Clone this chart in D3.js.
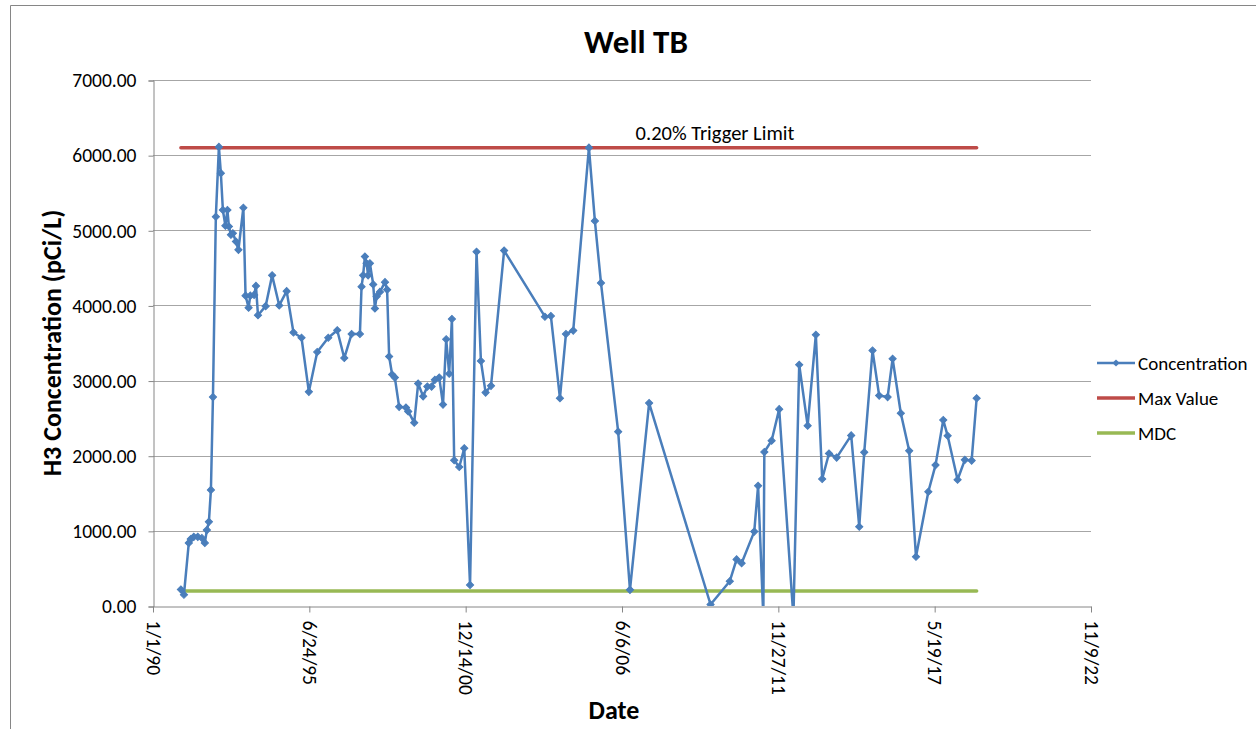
<!DOCTYPE html>
<html>
<head>
<meta charset="utf-8">
<script src="https://cdn.jsdelivr.net/npm/d3@7"></script>
<style>
  body { margin: 0; background: #fff; }
  svg { font-family: Carlito, Lato, "Open Sans", sans-serif; }
</style>
</head>
<body>
<div id="chartdiv"></div>
<script>
// sample dates (M/D/YY) and H3 concentration
var sampleDates = [
  "12/24/90", "2/1/91", "4/4/91", "4/29/91", "6/7/91", "7/28/91", "9/18/91", "10/26/91", "11/21/91", "12/17/91",
  "1/12/92", "2/7/92", "3/15/92", "4/23/92", "5/18/92", "6/13/92", "7/15/92", "8/10/92", "8/29/92", "9/24/92",
  "10/19/92", "11/27/92", "12/29/92", "3/2/93", "3/30/93", "5/8/93", "5/30/93", "7/18/93", "8/10/93", "9/5/93",
  "12/12/93", "3/5/94", "6/4/94", "9/7/94", "12/3/94", "3/16/95", "6/18/95", "10/3/95", "2/21/96", "6/15/96",
  "9/13/96", "12/16/96", "4/1/97", "4/22/97", "5/12/97", "6/4/97", "6/25/97", "7/15/97", "8/7/97", "9/18/97",
  "10/10/97", "11/1/97", "12/13/97", "2/16/98", "3/15/98", "4/10/98", "5/18/98", "6/22/98", "8/16/98", "11/11/98",
  "12/10/98", "2/25/99", "4/16/99", "6/19/99", "8/12/99", "10/5/99", "11/16/99", "1/11/00", "2/28/00", "4/9/00",
  "5/17/00", "6/21/00", "7/20/00", "9/23/00", "11/26/00", "2/8/01", "5/2/01", "6/27/01", "8/26/01", "11/3/01",
  "4/20/02", "9/24/03", "12/9/03", "4/3/04", "6/19/04", "9/20/04", "4/9/05", "6/24/05", "9/10/05", "4/18/06",
  "9/16/06", "5/19/07", "7/13/09", "3/16/10", "6/11/10", "8/14/10", "1/23/11", "3/13/11", "5/19/11", "6/1/11",
  "9/2/11", "12/8/11", "6/7/12", "8/20/12", "12/6/12", "3/21/13", "6/10/13", "9/5/13", "12/12/13", "6/16/14",
  "9/27/14", "11/30/14", "3/16/15", "6/9/15", "9/25/15", "11/28/15", "3/12/16", "6/27/16", "9/22/16", "2/27/17",
  "5/30/17", "9/6/17", "11/1/17", "3/8/18", "6/9/18", "9/4/18", "11/7/18"
];
var concentration = [
  220, 150, 840, 890, 920, 920, 905, 840, 1010, 1120,
  1545, 2780, 5180, 6110, 5760, 5270, 5060, 5270, 5050, 4940,
  4960, 4850, 4740, 5300, 4130, 3970, 4130, 4140, 4260, 3870,
  3990, 4400, 4000, 4190, 3640, 3570, 2850, 3380, 3570, 3670,
  3300, 3620, 3620, 4250, 4400, 4650, 4560, 4400, 4560, 4280,
  3960, 4120, 4180, 4310, 4210, 3320, 3080, 3040, 2650, 2640,
  2590, 2440, 2960, 2790, 2920, 2920, 3010, 3040, 2680, 3550,
  3090, 3820, 1940, 1850, 2100, 280, 4715, 3260, 2840, 2930,
  4730, 3850, 3860, 2765, 3620, 3665, 6100, 5125, 4300, 2320,
  215, 2700, 20, 330, 620, 570, 990, 1600, -150, 2050,
  2200, 2620, -150, 3210, 2400, 3610, 1690, 2030, 1975, 2270,
  1055, 2045, 3400, 2800, 2780, 3290, 2565, 2065, 655, 1520,
  1875, 2475, 2265, 1680, 1945, 1935, 2765
];
var maxValue = 6100;
var mdcValue = 200;
var xTickLabels = ["1/1/90", "6/24/95", "12/14/00", "6/6/06", "11/27/11", "5/19/17", "11/9/22"];
var yTickValues = [0, 1000, 2000, 3000, 4000, 5000, 6000, 7000];
var seriesNames = ["Concentration", "Max Value", "MDC"];
var seriesColors = ["#4a7ebb", "#be4b48", "#98b954"];

var parseDate = d3.timeParse("%m/%d/%y");
var data = sampleDates.map(function (d, i) {
    return {date: parseDate(d), value: concentration[i]};
});
var tickDates = xTickLabels.map(parseDate);

var W = 1256, H = 729;
var plot = {left: 153, right: 1091, top: 80, bottom: 606};

var x = d3.scaleTime()
    .domain([tickDates[0], tickDates[tickDates.length - 1]])
    .range([plot.left, plot.right]);

var y = d3.scaleLinear()
    .domain([0, 7000])
    .range([plot.bottom, plot.top]);

var svg = d3.select("#chartdiv").append("svg")
    .attr("width", W)
    .attr("height", H);

// chart frame
svg.append("path")
    .attr("d", "M10.5," + H + "V5.5H" + W)
    .attr("fill", "none")
    .attr("stroke", "#868686")
    .attr("stroke-width", 1);

// gridlines
svg.append("g")
    .selectAll("line")
    .data(yTickValues.slice(1))
    .enter().append("line")
    .attr("x1", plot.left)
    .attr("x2", plot.right)
    .attr("y1", function (d) { return Math.round(y(d)) + 0.5; })
    .attr("y2", function (d) { return Math.round(y(d)) + 0.5; })
    .attr("stroke", "#a6a6a6")
    .attr("stroke-width", 1);

// y axis
var yAxis = d3.axisLeft(y)
    .tickValues(yTickValues)
    .tickSize(5)
    .tickPadding(12)
    .tickFormat(d3.format(".2f"));

var gy = svg.append("g")
    .attr("transform", "translate(" + (plot.left + 0.5) + ",0.5)")
    .call(yAxis);
gy.select(".domain").attr("stroke", "#868686");
gy.selectAll(".tick line").attr("stroke", "#868686");
gy.selectAll(".tick text")
    .attr("font-size", "19.5px")
    .attr("font-family", "Carlito, Lato, sans-serif")
    .attr("fill", "#000");

// x axis
var xAxis = d3.axisBottom(x)
    .tickValues(tickDates)
    .tickSize(6)
    .tickSizeOuter(0)
    .tickFormat(function (d, i) { return xTickLabels[i]; });

var gx = svg.append("g")
    .attr("transform", "translate(0," + (plot.bottom + 0.5) + ")")
    .call(xAxis);
gx.select(".domain").attr("stroke", "#868686");
gx.selectAll(".tick line").attr("stroke", "#868686");
gx.selectAll(".tick text")
    .attr("font-size", "19.5px")
    .attr("font-family", "Carlito, Lato, sans-serif")
    .attr("fill", "#000")
    .attr("text-anchor", "start")
    .attr("transform", "rotate(90)")
    .attr("x", 14)
    .attr("y", 0)
    .attr("dy", "0.35em");

// clip to plot area
svg.append("clipPath")
    .attr("id", "plotclip")
    .append("rect")
    .attr("x", plot.left)
    .attr("y", plot.top - 10)
    .attr("width", plot.right - plot.left)
    .attr("height", plot.bottom - plot.top + 10);

var firstDate = data[0].date, lastDate = data[data.length - 1].date;

// Max Value and MDC lines
svg.append("line")
    .attr("x1", x(firstDate)).attr("x2", x(lastDate))
    .attr("y1", y(maxValue)).attr("y2", y(maxValue))
    .attr("stroke", seriesColors[1])
    .attr("stroke-width", 3.5)
    .attr("stroke-linecap", "round");

svg.append("line")
    .attr("x1", x(firstDate)).attr("x2", x(lastDate))
    .attr("y1", y(mdcValue)).attr("y2", y(mdcValue))
    .attr("stroke", seriesColors[2])
    .attr("stroke-width", 3.5)
    .attr("stroke-linecap", "round");

svg.append("text")
    .attr("x", 715)
    .attr("y", y(maxValue) - 8)
    .attr("text-anchor", "middle")
    .attr("font-size", "20.5px")
    .attr("fill", "#000")
    .text("0.20% Trigger Limit");

// Concentration
var line = d3.line()
    .x(function (d) { return x(d.date); })
    .y(function (d) { return y(d.value); });

var conc = svg.append("g").attr("clip-path", "url(#plotclip)");

conc.append("path")
    .datum(data)
    .attr("d", line)
    .attr("fill", "none")
    .attr("stroke", seriesColors[0])
    .attr("stroke-width", 2.5)
    .attr("stroke-linejoin", "round");

var diamond = d3.symbol().type(d3.symbolSquare).size(26);

conc.selectAll(".marker")
    .data(data)
    .enter().append("path")
    .attr("class", "marker")
    .attr("d", diamond)
    .attr("transform", function (d) {
        return "translate(" + x(d.date) + "," + y(d.value) + ") rotate(45)";
    })
    .attr("fill", seriesColors[0])
    .attr("stroke", seriesColors[0])
    .attr("stroke-width", 1);

// titles
svg.append("text")
    .attr("x", 636)
    .attr("y", 53)
    .attr("text-anchor", "middle")
    .attr("font-size", "33px")
    .attr("font-weight", "bold")
    .text("Well TB");

svg.append("text")
    .attr("transform", "translate(61," + ((plot.top + plot.bottom) / 2) + ") rotate(-90)")
    .attr("text-anchor", "middle")
    .attr("font-size", "26px")
    .attr("font-weight", "bold")
    .text("H3 Concentration (pCi/L)");

svg.append("text")
    .attr("x", 614)
    .attr("y", 719)
    .attr("text-anchor", "middle")
    .attr("font-size", "26px")
    .attr("font-weight", "bold")
    .text("Date");

//Legend
var legend = svg.selectAll(".legend")
    .data(seriesNames)
    .enter().append("g")
    .attr("class", "legend")
    .attr("transform", function (d, i) {
        return "translate(1097," + (363 + i * 35) + ")";
    });

legend.append("line")
    .attr("x1", 0)
    .attr("x2", 38)
    .attr("stroke", function (d, i) { return seriesColors[i]; })
    .attr("stroke-width", function (d, i) { return i === 0 ? 2.5 : 3.5; });

legend.filter(function (d, i) { return i === 0; })
    .append("path")
    .attr("d", diamond)
    .attr("transform", "translate(19,0) rotate(45)")
    .attr("fill", seriesColors[0]);

legend.append("text")
    .attr("x", 41)
    .attr("y", 0)
    .attr("dy", "0.35em")
    .attr("font-size", "19px")
    .attr("fill", "#000")
    .text(function (d) { return d; });
</script>
</body>
</html>
